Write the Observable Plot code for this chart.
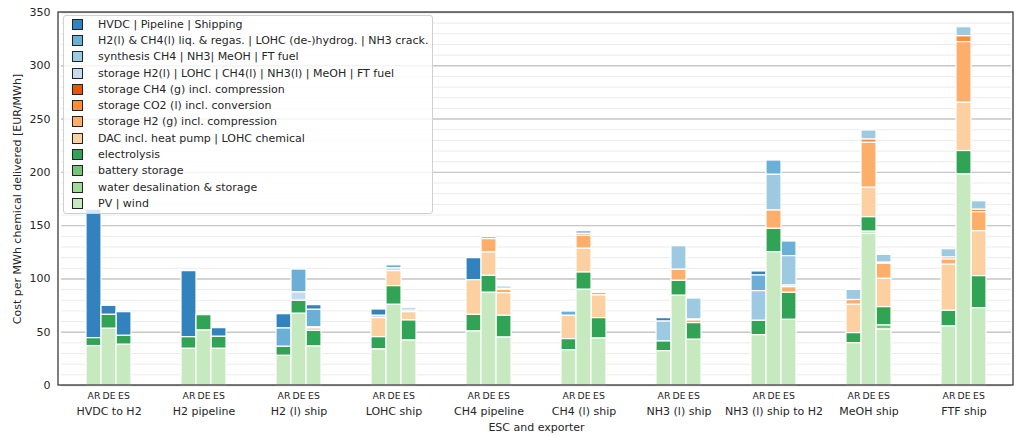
<!DOCTYPE html>
<html><head><meta charset="utf-8">
<script src="https://cdn.jsdelivr.net/npm/d3@7"></script>
<script src="https://cdn.jsdelivr.net/npm/@observablehq/plot@0.6"></script>
<style>
body{margin:0;background:#fff;font-family:"DejaVu Sans",sans-serif;color:#262626;}
#wrap{position:relative;width:1023px;height:437px;}
#legend{position:absolute;left:63px;top:15px;width:368px;height:197px;background:rgba(255,255,255,0.8);border:1px solid #d0d0d0;border-radius:3px;font-size:11px;}
.row{height:16.3px;display:flex;align-items:center;white-space:nowrap;}
.sw{width:9px;height:9px;border:1px solid #222;margin-left:8px;margin-right:15px;flex:none;}
</style></head><body><div id="wrap"></div><script>
const categories = ["HVDC to H2","H2 pipeline","H2 (l) ship","LOHC ship","CH4 pipeline","CH4 (l) ship","NH3 (l) ship","NH3 (l) ship to H2","MeOH ship","FTF ship"];
const exporters = ["AR","DE","ES"];
// legend order (top to bottom)
const components = [
  "HVDC | Pipeline | Shipping",
  "H2(l) & CH4(l) liq. & regas. | LOHC (de-)hydrog. | NH3 crack.",
  "synthesis CH4 | NH3| MeOH | FT fuel",
  "storage H2(l) | LOHC | CH4(l) | NH3(l) | MeOH | FT fuel",
  "storage CH4 (g) incl. compression",
  "storage CO2 (l) incl. conversion",
  "storage H2 (g) incl. compression",
  "DAC incl. heat pump | LOHC chemical",
  "electrolysis",
  "battery storage",
  "water desalination & storage",
  "PV | wind"
];
const colors = ["#3182bd","#6baed6","#9ecae1","#c6dbef","#e6550d","#fd8d3c","#fdae6b","#fdd0a2","#31a354","#74c476","#a1d99b","#c7e9c0"];
// values per category x exporter (AR, DE, ES), EUR/MWh
const hvdcPipeShip = [120.6,8.5,22.2, 62,0,8.1, 13.4,0,4.4, 5.9,0,1.2, 20.7,0,0, 0,0,0, 3.2,0,0, 3.8,0,0, 0,0,0, 0,0,0];
const liqConv      = [0,0,0, 0,0,0, 17.2,21.5,16.5, 0,3,2, 0,0,2, 4,2.5,0, 0,0,0, 14.7,13.4,13.7, 0,0,0, 0,0,0];
const synthesis    = [0,0,0, 0,0,0, 0,0,0, 0,0,0, 0,0,0, 0,0,0, 18.7,22.1,19.7, 27.8,33.5,27.6, 9.6,8.5,7.4, 7.8,8.5,8];
const storageLiq   = [0,0,0, 0,0,0, 0,7.8,1, 2.2,2.5,1.5, 0,0,0, 0,0,0, 0,0,0.9, 0,0,1.6, 0,0,0, 0,0,0];
const storageCH4   = [0,0,0, 0,0,0, 0,0,0, 0,0,0, 0,0,0, 0,0,0, 0,0,0, 0,0,0, 0,0,0, 0,0,0];
const storageCO2   = [0,0,0, 0,0,0, 0,0,0, 0,0,0, 0,1.9,1, 0,1.8,1, 0,0,0, 0,0,0, 0,3.1,1, 1.9,5.5,2.3];
const storageH2g   = [0,0,0, 0,0,0, 0,0,2.2, 0,0,0, 0,12.5,3.2, 0,12.2,2.5, 0,10.4,2.5, 0,17.2,5.2, 4.5,42.2,14.1, 4.9,56.9,17.8];
const dacChem      = [0,0,0, 0,0,0, 0,0,0, 17.9,14.1,7.8, 32.5,21.9,21.2, 21.9,22.3,21.3, 0,0,0, 0,0,0, 26.6,27.6,26.6, 43.2,45.3,42.2];
const electrolysis = [7.4,13.1,8.4, 10.9,14.4,11.3, 8.5,12.2,14.7, 11.5,17.5,18.8, 15.6,15.9,20.4, 10.4,16.2,19.1, 9.1,14,15.6, 13.5,21.9,25.4, 9.4,13.6,17.2, 14.7,22,30.1];
const battery      = [0,0,0, 0,0,0, 0,0,0, 0,0,0, 0,0,0, 0,0,0, 0,0,0, 0,0,0, 0,0,3.8, 0,0,0];
const desalination = [0,0,0, 0,0,0, 0,0,0, 0,0,0, 0,0,0, 0,0,0, 0,0,0, 0,0,0, 0,2,0, 0,0,0];
const pvWind       = [37,53.2,38.2, 34.4,51.6,34.4, 27.8,67.3,36.6, 33.8,75.7,42.2, 50.7,87,45, 33.1,89.8,44.1, 32.2,84.2,42.9, 47.2,125.1,61.6, 39.7,142.3,52.5, 55.4,198,72.5];
const yTicks = [0,50,100,150,200,250,300,350];

const series = [hvdcPipeShip, liqConv, synthesis, storageLiq, storageCH4, storageCO2, storageH2g, dacChem, electrolysis, battery, desalination, pvWind];
const table = [];
series.forEach((arr, i) => categories.forEach((cat, j) => exporters.forEach((ex, k) => {
  const v = arr[j*3+k];
  if (v > 0) table.push({cat, exp: ex, comp: components[i], value: v});
})));
const stackOrder = components.slice().reverse(); // bottom first

const M = {left:58, right:10, top:12, bottom:52};
const W = 1023, H = 437;
const plot = Plot.plot({
  width: W, height: H,
  marginLeft: M.left, marginRight: M.right, marginTop: M.top, marginBottom: M.bottom,
  style: {fontFamily: "DejaVu Sans, sans-serif", fontSize: "11px", color: "#262626", background: "transparent"},
  fx: {domain: categories, padding: 0},
  x: {domain: exporters, paddingInner: 0, paddingOuter: 1.5},
  y: {domain: [0, 350]},
  color: {domain: components, range: colors},
  marks: [
    Plot.gridY({ticks: d3.range(0, 351, 10), stroke: "#ebebeb", strokeOpacity: 1, strokeWidth: 1}),
    Plot.gridY({ticks: yTicks, stroke: "#c8c8c8", strokeOpacity: 1, strokeWidth: 1.4}),
    Plot.barY(table, Plot.stackY({fx: "cat", x: "exp", y: "value", fill: "comp", order: stackOrder, stroke: "white", strokeWidth: 1.2})),
    Plot.axisY({ticks: yTicks, tickSize: 0, tickPadding: 11, fontSize: 11, label: "Cost per MWh chemical delivered [EUR/MWh]", labelAnchor: "center", labelArrow: "none", labelOffset: 48}),
    Plot.axisX({tickSize: 0, tickPadding: 7, fontSize: 9.3, label: null}),
    Plot.axisFx({anchor: "bottom", tickSize: 0, tickPadding: 22, fontSize: 11, label: "ESC and exporter", labelAnchor: "center", labelArrow: "none", labelOffset: 45})
  ]
});
d3.select(plot).append("rect")
  .attr("x", M.left).attr("y", M.top)
  .attr("width", W - M.left - M.right).attr("height", H - M.top - M.bottom)
  .attr("fill", "none").attr("stroke", "#333").attr("stroke-width", 1.25);
const wrap = document.getElementById("wrap");
wrap.appendChild(plot);
const leg = document.createElement("div");
leg.id = "legend";
components.forEach((c, i) => {
  const r = document.createElement("div"); r.className = "row";
  const s = document.createElement("span"); s.className = "sw"; s.style.background = colors[i];
  const t = document.createElement("span"); t.textContent = c;
  r.appendChild(s); r.appendChild(t); leg.appendChild(r);
});
wrap.appendChild(leg);
</script></body></html>
